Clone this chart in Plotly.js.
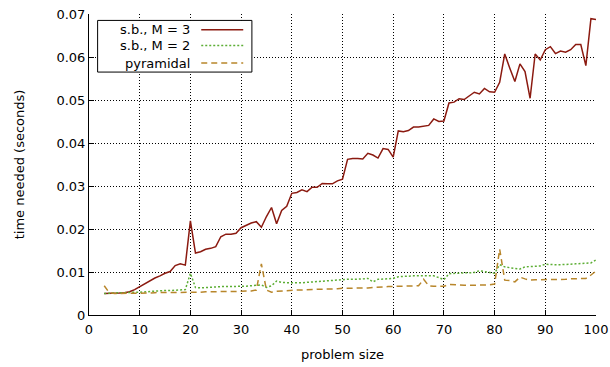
<!DOCTYPE html>
<html>
<head>
<meta charset="utf-8">
<script src="https://cdn.plot.ly/plotly-3.0.1.min.js"></script>
<style>html,body{margin:0;padding:0;background:#fff;}#chart{width:610px;height:367px;}</style>
</head>
<body>
<div id="chart"></div>
<script>
// problem sizes 3..100
const problemSize = [3,4,5,6,7,8,9,10,11,12,13,14,15,16,17,18,19,20,21,22,23,24,25,26,27,28,29,30,31,32,33,34,35,36,37,38,39,40,41,42,43,44,45,46,47,48,49,50,51,52,53,54,55,56,57,58,59,60,61,62,63,64,65,66,67,68,69,70,71,72,73,74,75,76,77,78,79,80,81,82,83,84,85,86,87,88,89,90,91,92,93,94,95,96,97,98,99,100];

const sbM3 = [0.0050,0.0050,0.0051,0.0051,0.0052,0.0054,0.0059,0.0066,0.0072,0.0080,0.0086,0.0091,0.0097,0.0101,0.0115,0.0119,0.0116,0.0219,0.0144,0.0147,0.0153,0.0155,0.0159,0.0182,0.0188,0.0188,0.0190,0.0203,0.0209,0.0214,0.0217,0.0204,0.0229,0.0250,0.0212,0.0243,0.0253,0.0283,0.0285,0.0291,0.0287,0.0297,0.0297,0.0306,0.0305,0.0305,0.0312,0.0316,0.0362,0.0364,0.0364,0.0363,0.0376,0.0372,0.0365,0.0387,0.0385,0.0367,0.0428,0.0426,0.0429,0.0437,0.0437,0.0439,0.0441,0.0456,0.0450,0.0451,0.0493,0.0495,0.0503,0.0501,0.0509,0.0518,0.0514,0.0527,0.0519,0.0518,0.0541,0.0607,0.0574,0.0543,0.0584,0.0566,0.0504,0.0607,0.0593,0.0617,0.0624,0.0608,0.0614,0.0611,0.0617,0.0629,0.0629,0.0580,0.0689,0.0687];

const sbM2 = [0.0050,0.0051,0.0052,0.0052,0.0052,0.0053,0.0053,0.0053,0.0054,0.0055,0.0055,0.0056,0.0057,0.0057,0.0058,0.0058,0.0059,0.0097,0.0064,0.0063,0.0064,0.0065,0.0065,0.0066,0.0066,0.0066,0.0067,0.0067,0.0067,0.0068,0.0069,0.0070,0.0064,0.0068,0.0079,0.0076,0.0075,0.0075,0.0074,0.0075,0.0076,0.0077,0.0078,0.0078,0.0079,0.0080,0.0081,0.0083,0.0083,0.0083,0.0083,0.0084,0.0085,0.0077,0.0083,0.0084,0.0085,0.0085,0.0089,0.0090,0.0090,0.0091,0.0091,0.0091,0.0092,0.0091,0.0087,0.0082,0.0096,0.0097,0.0097,0.0098,0.0098,0.0099,0.0103,0.0101,0.0100,0.0097,0.0117,0.0112,0.0110,0.0109,0.0107,0.0112,0.0113,0.0113,0.0114,0.0118,0.0117,0.0117,0.0117,0.0117,0.0118,0.0119,0.0120,0.0120,0.0121,0.0128];

const pyramidal = [0.0068,0.0052,0.0050,0.0050,0.0050,0.0050,0.0051,0.0051,0.0051,0.0051,0.0052,0.0052,0.0052,0.0052,0.0052,0.0053,0.0053,0.0053,0.0053,0.0053,0.0054,0.0054,0.0054,0.0054,0.0055,0.0055,0.0055,0.0055,0.0056,0.0056,0.0058,0.0119,0.0058,0.0053,0.0055,0.0056,0.0057,0.0057,0.0058,0.0058,0.0059,0.0059,0.0060,0.0060,0.0060,0.0061,0.0061,0.0062,0.0062,0.0062,0.0063,0.0063,0.0063,0.0064,0.0064,0.0065,0.0066,0.0067,0.0067,0.0067,0.0067,0.0067,0.0068,0.0083,0.0068,0.0067,0.0067,0.0067,0.0071,0.0070,0.0070,0.0069,0.0069,0.0069,0.0069,0.0070,0.0070,0.0072,0.0153,0.0081,0.0080,0.0077,0.0088,0.0084,0.0081,0.0082,0.0082,0.0083,0.0083,0.0083,0.0083,0.0083,0.0084,0.0084,0.0084,0.0085,0.0093,0.0102];

const seriesNames = ['s.b., M = 3', 's.b., M = 2', 'pyramidal'];
const seriesColors = ['#8B1A10', '#5DAE35', '#B8862B'];
const seriesDash = ['solid', '2px,2px', '6px,4px'];
const seriesValues = [sbM3, sbM2, pyramidal];

const xTickVals = [0,10,20,30,40,50,60,70,80,90,100];
const yTickVals = [0,0.01,0.02,0.03,0.04,0.05,0.06,0.07];
const yTickText = ['0','0.01','0.02','0.03','0.04','0.05','0.06','0.07'];

const font = 'DejaVu Sans, sans-serif';

const traces = seriesValues.map((vals, i) => ({
  x: problemSize, y: vals, type: 'scatter', mode: 'lines', name: seriesNames[i],
  line: {color: seriesColors[i], width: 1.5, dash: seriesDash[i]}, showlegend: false
}));

// custom legend (text right, sample line to the right, boxed)
const legBox = {x0: 0.017, x1: 0.3213, y0: 0.8071, y1: 0.9787};
const rowY = [0.9478, 0.8956, 0.837];
const shapes = [{type: 'rect', xref: 'paper', yref: 'paper', x0: legBox.x0, x1: legBox.x1, y0: legBox.y0, y1: legBox.y1,
  line: {color: '#000', width: 1}, fillcolor: '#fff', layer: 'above'}];
const annotations = [];
seriesNames.forEach((n, i) => {
  shapes.push({type: 'line', xref: 'paper', yref: 'paper', x0: 0.2214, x1: 0.3042, y0: rowY[i], y1: rowY[i],
    line: {color: seriesColors[i], width: 1.5, dash: seriesDash[i]}, layer: 'above'});
  annotations.push({xref: 'paper', yref: 'paper', x: 0.203, y: rowY[i], xanchor: 'right', yanchor: 'middle',
    text: n, showarrow: false, font: {family: font, size: 13, color: '#000'}});
});

const axisCommon = {
  showline: true, linecolor: '#000', linewidth: 1,
  ticks: 'inside', ticklen: 5, tickcolor: '#000', tickwidth: 1,
  showgrid: true, gridcolor: '#000', gridwidth: 1, griddash: '1px,2px',
  zeroline: false, tickfont: {family: font, size: 13, color: '#000'}
};

const layout = {
  width: 610, height: 367,
  margin: {l: 89, r: 14, t: 14, b: 52},
  paper_bgcolor: '#fff', plot_bgcolor: '#fff',
  xaxis: Object.assign({}, axisCommon, {range: [0, 100], tickmode: 'array', tickvals: xTickVals, ticklabelstandoff: 2,
    title: {text: 'problem size', font: {family: font, size: 13, color: '#000'}, standoff: 14}}),
  yaxis: Object.assign({}, axisCommon, {range: [0, 0.07], tickmode: 'array', tickvals: yTickVals, ticktext: yTickText,
    title: {text: 'time needed (seconds)', font: {family: font, size: 13, color: '#000'}, standoff: 28}}),
  shapes: shapes, annotations: annotations, showlegend: false
};

Plotly.newPlot('chart', traces, layout, {displayModeBar: false, staticPlot: true});
</script>
</body>
</html>
